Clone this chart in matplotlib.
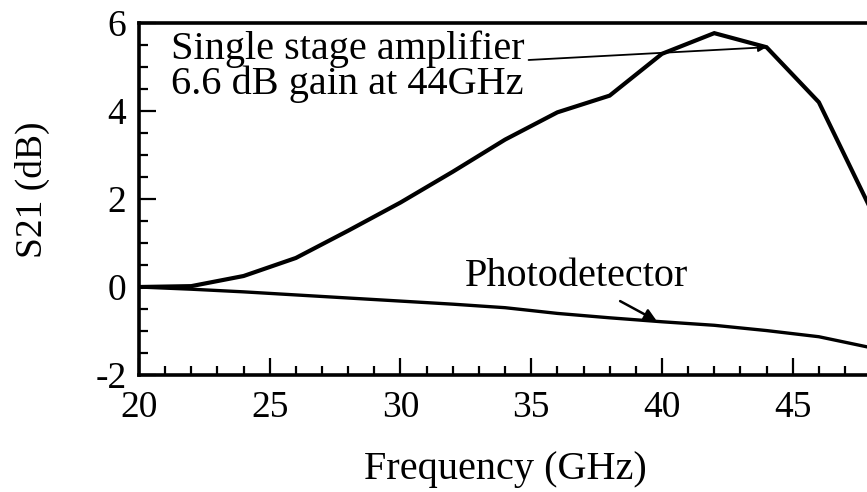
import matplotlib.pyplot as plt
from matplotlib.ticker import MultipleLocator

# Measured S21 of the amplifier and the bare photodetector
freq = [20, 22, 24, 26, 28, 30, 32, 34, 36, 38, 40, 42, 44, 46, 48]
amp_s21 = [0.0, 0.02, 0.25, 0.66, 1.28, 1.92, 2.62, 3.35, 3.97, 4.35,
           5.3, 5.77, 5.45, 4.2, 1.75]
pd_s21 = [0.0, -0.05, -0.11, -0.18, -0.25, -0.32, -0.39, -0.47, -0.6,
          -0.7, -0.79, -0.87, -0.99, -1.13, -1.38]

plt.rcParams['font.family'] = ['Liberation Serif', 'DejaVu Serif']
plt.rcParams['axes.unicode_minus'] = False

fig = plt.figure(figsize=(8.67, 4.92), dpi=100)
ax = fig.add_axes([0.1603, 0.2378, 0.9048, 0.7154])

ax.plot(freq, amp_s21, color='black', lw=3.0, solid_joinstyle='miter')
ax.plot(freq, pd_s21, color='black', lw=2.4)

ax.set_xlim(20, 50)
ax.set_ylim(-2, 6)
ax.xaxis.set_major_locator(MultipleLocator(5))
ax.xaxis.set_minor_locator(MultipleLocator(1))
ax.yaxis.set_major_locator(MultipleLocator(2))
ax.yaxis.set_minor_locator(MultipleLocator(0.5))
ax.set_xticks([20, 25, 30, 35, 40, 45])

ax.tick_params(which='major', direction='in', length=12, width=1.6,
               labelsize=27, top=False, right=False)
ax.tick_params(which='minor', direction='in', length=6.5, width=1.6,
               top=False, right=False)
ax.tick_params(axis='x', which='major', pad=11)
ax.tick_params(axis='y', which='major', pad=9)

for side in ['left', 'bottom', 'top']:
    ax.spines[side].set_linewidth(2.6)
ax.spines['right'].set_visible(False)

fig.text(0.037, 0.614, 'S21 (dB)', rotation=90, fontsize=27,
         ha='center', va='center')
fig.text(505 / 867, 1 - 470 / 492, 'Frequency (GHz)', fontsize=29,
         ha='center', va='center')

# annotations
fig.text(171 / 867, 1 - 59 / 492, 'Single stage amplifier', fontsize=29,
         ha='left', va='baseline')
fig.text(171 / 867, 1 - 94 / 492, '6.6 dB gain at 44GHz', fontsize=29,
         ha='left', va='baseline')
ax.annotate('', xy=(44, 5.45), xytext=(34.9, 5.16),
            arrowprops=dict(arrowstyle='-|>', color='black', lw=1.3,
                            mutation_scale=12, shrinkA=0, shrinkB=0))

fig.text(465 / 867, 1 - 286 / 492, 'Photodetector', fontsize=29,
         ha='left', va='baseline')
ax.annotate('', xy=(39.8, -0.77), xytext=(38.4, -0.32),
            arrowprops=dict(arrowstyle='-|>', color='black', lw=1.8,
                            mutation_scale=18, shrinkA=0, shrinkB=0))

fig.savefig('out.png', dpi=100)
